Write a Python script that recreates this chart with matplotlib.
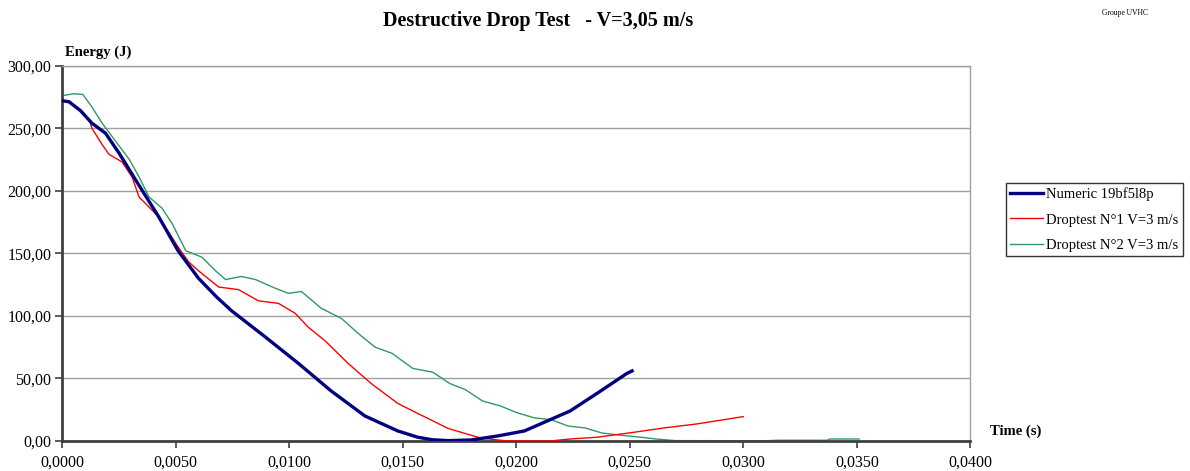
import matplotlib
matplotlib.use("Agg")
import matplotlib.pyplot as plt
import matplotlib.ticker as ticker

# Energy (J) vs time (s)
num_t = [0.0, 0.0003, 0.0008, 0.0013, 0.0019, 0.0025, 0.00325, 0.00425, 0.0051, 0.0060,
         0.0068, 0.00746, 0.00895, 0.0104, 0.01184, 0.01333, 0.01478, 0.01566, 0.0163, 0.0170,
         0.0180, 0.01917, 0.02035, 0.02136, 0.02237, 0.02355, 0.02487, 0.0251]
num_e = [272, 271, 264, 254, 246, 230, 208, 179, 152, 130,
         115, 104, 83, 62, 40, 20, 8, 3, 1, 0.3,
         0.8, 4, 8, 16, 24, 38, 54, 56]

dt1_t = [0.0, 0.0003, 0.00118, 0.0013, 0.00175, 0.00206, 0.00263, 0.00307, 0.00338,
         0.00425, 0.0051, 0.00557, 0.0060, 0.00689, 0.00776, 0.00864, 0.00952,
         0.01026, 0.01083, 0.01158, 0.01259, 0.0136, 0.01478, 0.01566, 0.0170,
         0.01842, 0.0196, 0.0215, 0.02237, 0.02355, 0.025, 0.02649, 0.02794, 0.0300]
dt1_e = [271, 272, 257, 250, 237, 229, 223, 211, 195,
         179, 155, 143, 136, 123, 121, 112, 110,
         102, 91, 80, 62, 46, 30, 22, 10,
         2.4, 0, 0, 1.6, 3, 6.5, 10.4, 13.6, 19.5]

dt2_t = [0.0, 0.0005, 0.0009, 0.0013, 0.00175, 0.00237, 0.00295, 0.00338, 0.00382,
         0.00439, 0.00483, 0.00544, 0.00614, 0.00675, 0.00719, 0.00789, 0.00851,
         0.00939, 0.00996, 0.01053, 0.01141, 0.01229, 0.01303, 0.01378, 0.01453,
         0.01544, 0.01632, 0.01706, 0.01776, 0.01851, 0.0193, 0.02004, 0.02079,
         0.02153, 0.02228, 0.02303, 0.02377, 0.02452, 0.0255, 0.02614, 0.0270,
         0.0310, 0.0315, 0.0337, 0.0338, 0.0351]
dt2_e = [276, 277.5, 277, 267, 254, 239, 225, 211, 195,
         186, 174, 152, 147, 136, 129, 131.5, 129,
         122, 118, 119.5, 106, 98, 86, 75, 70,
         58, 55, 46, 41, 32, 28, 22.5, 18.5,
         17, 12, 10.4, 6.4, 4.8, 3, 1.6, 0.3,
         0.2, 0.6, 0.6, 1.6, 1.6]

labels = ["Numeric 19bf5l8p", "Droptest N°1 V=3 m/s", "Droptest N°2 V=3 m/s"]

plt.rcParams['font.family'] = ['Liberation Serif', 'DejaVu Serif']

fig = plt.figure(figsize=(11.9, 4.71), dpi=100)
ax = fig.add_axes([0.0524, 0.0637, 0.763, 0.797])

ax.plot(num_t, num_e, color='#000080', lw=2.4, label=labels[0], zorder=4)
ax.plot(dt1_t, dt1_e, color='#ff0000', lw=1.0, label=labels[1], zorder=3)
ax.plot(dt2_t, dt2_e, color='#2e9a64', lw=1.0, label=labels[2], zorder=2)

ax.set_xlim(0, 0.04)
ax.set_ylim(0, 300)
ax.set_xticks([i * 0.005 for i in range(9)])
ax.set_yticks(range(0, 301, 50))
ax.xaxis.set_major_formatter(ticker.FuncFormatter(lambda v, p: f"{v:.4f}".replace('.', ',')))
ax.yaxis.set_major_formatter(ticker.FuncFormatter(lambda v, p: f"{v:.2f}".replace('.', ',')))
ax.tick_params(axis='both', labelsize=11.5, direction='out', length=5, width=1.2, color='#404040')
ax.tick_params(axis='x', pad=5)
ax.tick_params(axis='y', pad=3)
ax.grid(axis='y', color='#a0a0a0', lw=1.0)
ax.set_axisbelow(True)
for side in ['top', 'right']:
    ax.spines[side].set_color('#a0a0a0')
    ax.spines[side].set_linewidth(1.0)
for side in ['left', 'bottom']:
    ax.spines[side].set_color('#404040')
    ax.spines[side].set_linewidth(2.0)

fig.text(0.452, 0.955, "Destructive Drop Test   - V=3,05 m/s", ha='center', va='center',
         fontsize=14.5, fontweight='bold')
fig.text(0.055, 0.89, "Energy (J)", ha='left', va='center', fontsize=10.5, fontweight='bold')
fig.text(0.832, 0.085, "Time (s)", ha='left', va='center', fontsize=10.5, fontweight='bold')
fig.text(0.945, 0.972, "Groupe UVHC", ha='center', va='center', fontsize=5.5)

leg = fig.legend(loc='upper left', bbox_to_anchor=(0.845, 0.612), fontsize=10.5,
                 frameon=True, fancybox=False, handlelength=2.3, handletextpad=0.2,
                 borderpad=0.3, labelspacing=0.85, borderaxespad=0)
leg.get_frame().set_edgecolor('black')
leg.get_frame().set_linewidth(1.0)

fig.savefig("out.png", dpi=100)
